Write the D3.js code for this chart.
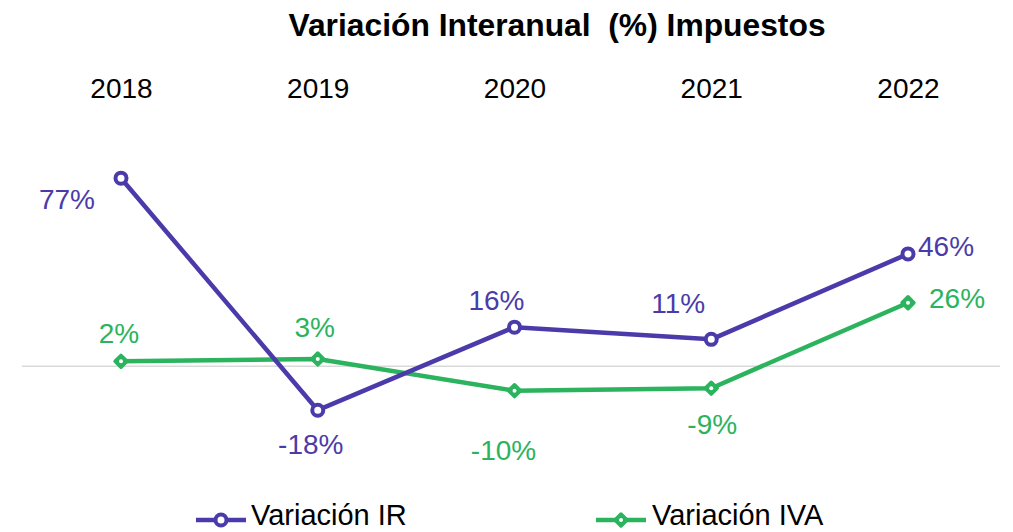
<!DOCTYPE html>
<html>
<head>
<meta charset="utf-8">
<script src="https://cdn.jsdelivr.net/npm/d3@7"></script>
<style>
  body { margin: 0; background: #fff; }
  text { font-family: "Liberation Sans", Arial, sans-serif; }
</style>
</head>
<body>
<div id="chart"></div>
<script>
var svgWidth = 1013;
var svgHeight = 532;

// data
var years = ["2018", "2019", "2020", "2021", "2022"];
var irValues = [77, -18, 16, 11, 46];
var ivaValues = [2, 3, -10, -9, 26];
var irLabels = ["77%", "-18%", "16%", "11%", "46%"];
var ivaLabels = ["2%", "3%", "-10%", "-9%", "26%"];

var purple = "#4B3BAA";
var green = "#2BB35E";

var svg = d3.select("#chart").append("svg")
  .attr("width", svgWidth)
  .attr("height", svgHeight);

var xScale = d3.scalePoint()
  .domain(years)
  .range([121, 908]);

var yScale = d3.scaleLinear()
  .domain([-30, 100])
  .range([439.5, 122]);

// title
svg.append("text")
  .attr("x", 557)
  .attr("y", 36)
  .attr("text-anchor", "middle")
  .attr("font-size", "31.8px")
  .attr("font-weight", "bold")
  .style("white-space", "pre")
  .text("Variación Interanual  (%) Impuestos");

// category labels at top
var topAxis = d3.axisTop(xScale).tickSize(0).tickPadding(0);
var axisG = svg.append("g")
  .attr("transform", "translate(0, 98)")
  .call(topAxis);
axisG.select(".domain").remove();
axisG.selectAll("text")
  .attr("font-size", "28px")
  .attr("fill", "#000")
  .style("font-family", "'Liberation Sans', Arial, sans-serif");

// zero line
svg.append("line")
  .attr("x1", 22)
  .attr("x2", 1000)
  .attr("y1", yScale(0))
  .attr("y2", yScale(0))
  .attr("stroke", "#d9d9d9")
  .attr("stroke-width", 1.5);

var line = d3.line()
  .x(function(d, i) { return xScale(years[i]); })
  .y(function(d) { return yScale(d); });

// IVA series
svg.append("path")
  .datum(ivaValues)
  .attr("d", line)
  .attr("fill", "none")
  .attr("stroke", green)
  .attr("stroke-width", 4.5)
  .attr("stroke-linejoin", "round");

// rotated square marker
var diamond = d3.symbol().type(d3.symbolSquare).size(70);

function drawDiamond(g, x, y) {
  g.append("path")
    .attr("d", diamond)
    .attr("transform", "translate(" + x + "," + y + ") rotate(45)")
    .attr("fill", green)
    .attr("stroke", green)
    .attr("stroke-width", 3.5)
    .attr("stroke-linejoin", "round");
  g.append("circle")
    .attr("cx", x)
    .attr("cy", y)
    .attr("r", 2)
    .attr("fill", "#fff");
}

var ivaMarks = svg.append("g");
ivaValues.forEach(function(d, i) {
  drawDiamond(ivaMarks, xScale(years[i]), yScale(d));
});

// IR series
svg.append("path")
  .datum(irValues)
  .attr("d", line)
  .attr("fill", "none")
  .attr("stroke", purple)
  .attr("stroke-width", 4.5)
  .attr("stroke-linejoin", "round");

svg.selectAll(".irMark")
  .data(irValues)
  .enter()
  .append("circle")
  .attr("class", "irMark")
  .attr("cx", function(d, i) { return xScale(years[i]); })
  .attr("cy", function(d) { return yScale(d); })
  .attr("r", 5.5)
  .attr("fill", "#fff")
  .attr("stroke", purple)
  .attr("stroke-width", 4);

// data labels: offsets relative to point [dx, dy, anchor]
var irPos = [[-54, 21, "middle"], [-7, 34, "middle"], [-18, -27, "middle"], [-33, -36, "middle"], [10, -8, "start"]];
var ivaPos = [[-2, -28, "middle"], [-3, -32, "middle"], [-11, 59, "middle"], [1, 36, "middle"], [21, -5, "start"]];

svg.selectAll(".irLabel")
  .data(irValues)
  .enter()
  .append("text")
  .attr("class", "irLabel")
  .attr("x", function(d, i) { return xScale(years[i]) + irPos[i][0]; })
  .attr("y", function(d, i) { return yScale(d) + irPos[i][1]; })
  .attr("dy", "0.36em")
  .attr("text-anchor", function(d, i) { return irPos[i][2]; })
  .attr("font-size", "28px")
  .attr("fill", purple)
  .text(function(d, i) { return irLabels[i]; });

svg.selectAll(".ivaLabel")
  .data(ivaValues)
  .enter()
  .append("text")
  .attr("class", "ivaLabel")
  .attr("x", function(d, i) { return xScale(years[i]) + ivaPos[i][0]; })
  .attr("y", function(d, i) { return yScale(d) + ivaPos[i][1]; })
  .attr("dy", "0.36em")
  .attr("text-anchor", function(d, i) { return ivaPos[i][2]; })
  .attr("font-size", "28px")
  .attr("fill", green)
  .text(function(d, i) { return ivaLabels[i]; });

// legend
var legendY = 520;
var legend = svg.append("g");

legend.append("line")
  .attr("x1", 196).attr("x2", 246)
  .attr("y1", legendY).attr("y2", legendY)
  .attr("stroke", purple).attr("stroke-width", 4.5);
legend.append("circle")
  .attr("cx", 221).attr("cy", legendY).attr("r", 5.5)
  .attr("fill", "#fff").attr("stroke", purple).attr("stroke-width", 4);
legend.append("text")
  .attr("x", 251).attr("y", 525)
  .attr("font-size", "29px").attr("fill", "#000")
  .text("Variación IR");

legend.append("line")
  .attr("x1", 596).attr("x2", 646)
  .attr("y1", legendY).attr("y2", legendY)
  .attr("stroke", green).attr("stroke-width", 4.5);
drawDiamond(legend, 621, legendY);
legend.append("text")
  .attr("x", 652).attr("y", 525)
  .attr("font-size", "29px").attr("fill", "#000")
  .text("Variación IVA");
</script>
</body>
</html>
